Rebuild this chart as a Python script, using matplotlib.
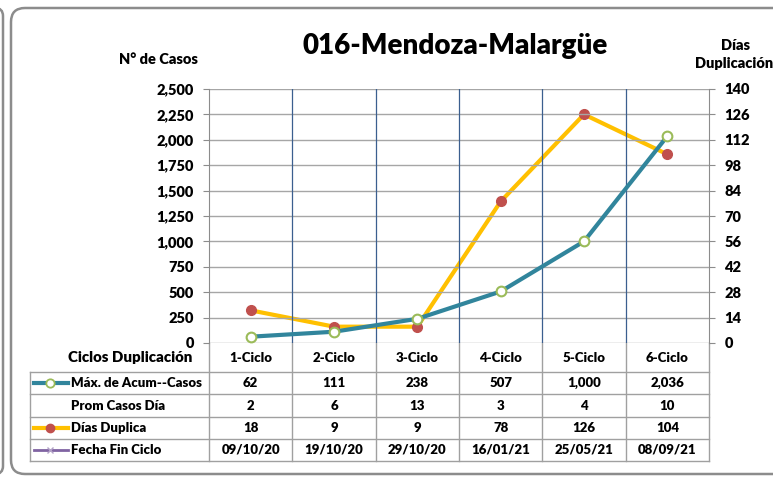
import matplotlib.pyplot as plt
import numpy as np
from matplotlib.patches import FancyBboxPatch
from matplotlib.ticker import FuncFormatter

plt.rcParams['font.family'] = ['Lato', 'DejaVu Sans']
plt.rcParams['font.weight'] = 'heavy'

ciclos = ['1-Ciclo', '2-Ciclo', '3-Ciclo', '4-Ciclo', '5-Ciclo', '6-Ciclo']
max_casos = [62, 111, 238, 507, 1000, 2036]
prom_casos = [2, 6, 13, 3, 4, 10]
dias_duplica = [18, 9, 9, 78, 126, 104]
fecha_fin = ['09/10/20', '19/10/20', '29/10/20', '16/01/21', '25/05/21', '08/09/21']

W, H = 773, 480
fig = plt.figure(figsize=(W / 100, H / 100), dpi=100)

# pixel overlay for frame and table
bg = fig.add_axes([0, 0, 1, 1])
bg.set_xlim(0, W)
bg.set_ylim(H, 0)
bg.axis('off')
bg.add_patch(FancyBboxPatch((11, 8), 800, 466, boxstyle='round,pad=0,rounding_size=14',
                            fc='white', ec='#8c8c8c', lw=1.8))
bg.add_patch(FancyBboxPatch((-60, 8), 63, 466, boxstyle='round,pad=0,rounding_size=8',
                            fc='white', ec='#8c8c8c', lw=1.8))

L, R, T, B = 209, 709, 89, 343
ax = fig.add_axes([L / W, 1 - B / H, (R - L) / W, (B - T) / H])
ax2 = ax.twinx()
x = np.arange(len(ciclos))

ax.set_xlim(-0.5, len(ciclos) - 0.5)
ax.set_ylim(0, 2500)
ax.set_yticks(np.arange(0, 2501, 250))
ax.yaxis.set_major_formatter(FuncFormatter(lambda v, p: f'{int(v):,}'))
ax2.set_ylim(0, 140)
ax2.set_yticks(np.arange(0, 141, 14))
ax.set_xticks([])
ax.grid(axis='y', color='#a6a6a6', lw=1)
for b in x[:-1] + 0.5:
    ax.axvline(b, color='#3b5f8f', lw=0.9)
for a in (ax, ax2):
    for s in ['top', 'bottom']:
        a.spines[s].set_visible(False)
    a.spines['left'].set_color('#8c8c8c')
    a.spines['right'].set_color('#8c8c8c')
    a.tick_params(axis='y', labelsize=10.5, length=4, color='#8c8c8c', pad=7)
ax.spines['right'].set_visible(False)
ax2.spines['left'].set_visible(False)
for lab in ax.get_yticklabels() + ax2.get_yticklabels():
    lab.set_fontweight('heavy')

ax.plot(x, max_casos, color='#31859c', lw=3, marker='o', ms=7, mfc='white',
        mec='#9bbb59', mew=1.5, zorder=3)
ax2.plot(x, dias_duplica, color='#ffc000', lw=3, marker='o', ms=7, mfc='#c0504d',
         mec='#c0504d', zorder=3)
ax.set_zorder(ax2.get_zorder() + 1)
ax.patch.set_visible(False)

# titles
bg.text(455, 46, '016-Mendoza-Malargüe', fontsize=20, ha='center', va='center', fontweight='heavy')
bg.text(158, 60, 'N° de Casos', fontsize=10.5, ha='center', va='center')
bg.text(735, 45, 'Días', fontsize=10.5, ha='center', va='center')
bg.text(695, 64, 'Duplicación', fontsize=10.5, ha='left', va='center')

# data table
col_w = (R - L) / len(ciclos)
rows_y = [343, 372, 394, 417, 439, 461]
gc = '#a0a0a0'
for i in range(len(ciclos) + 1):
    bg.plot([L + i * col_w] * 2, [rows_y[0], rows_y[-1]], color=gc, lw=1)
bg.plot([30, 30], [rows_y[1], rows_y[-1]], color=gc, lw=1)
for yy in rows_y[1:]:
    bg.plot([30, R], [yy, yy], color=gc, lw=1)

bg.text(130, 358, 'Ciclos Duplicación', fontsize=10.8, ha='center', va='center')
row_vals = [
    ('Máx. de Acum--Casos', [f'{v:,}' for v in max_casos]),
    ('Prom Casos Día', [str(v) for v in prom_casos]),
    ('Días Duplica', [str(v) for v in dias_duplica]),
    ('Fecha Fin Ciclo', fecha_fin),
]
for i, c in enumerate(ciclos):
    bg.text(L + (i + 0.5) * col_w, 358, c, fontsize=9.5, ha='center', va='center')
for r, (name, vals) in enumerate(row_vals):
    yc = (rows_y[r + 1] + rows_y[r + 2]) / 2
    bg.text(71, yc, name, fontsize=9.5, ha='left', va='center')
    for i, v in enumerate(vals):
        bg.text(L + (i + 0.5) * col_w, yc, v, fontsize=9.5, ha='center', va='center')

# legend keys
keys = [
    dict(color='#31859c', lw=3, marker='o', ms=6, mfc='white', mec='#9bbb59', mew=1.3),
    None,
    dict(color='#ffc000', lw=3, marker='o', ms=6, mfc='#c0504d', mec='#c0504d'),
    dict(color='#8064a2', lw=2, marker='x', ms=5, mec='#b3a2c7'),
]
for r, k in enumerate(keys):
    if k is None:
        continue
    yc = (rows_y[r + 1] + rows_y[r + 2]) / 2
    bg.plot([34, 68], [yc, yc], **{kk: vv for kk, vv in k.items() if kk not in ('marker', 'ms', 'mfc', 'mec', 'mew')})
    bg.plot([50], [yc], linestyle='none', **{kk: vv for kk, vv in k.items() if kk not in ('color', 'lw')})

fig.savefig('out.png', dpi=100)
